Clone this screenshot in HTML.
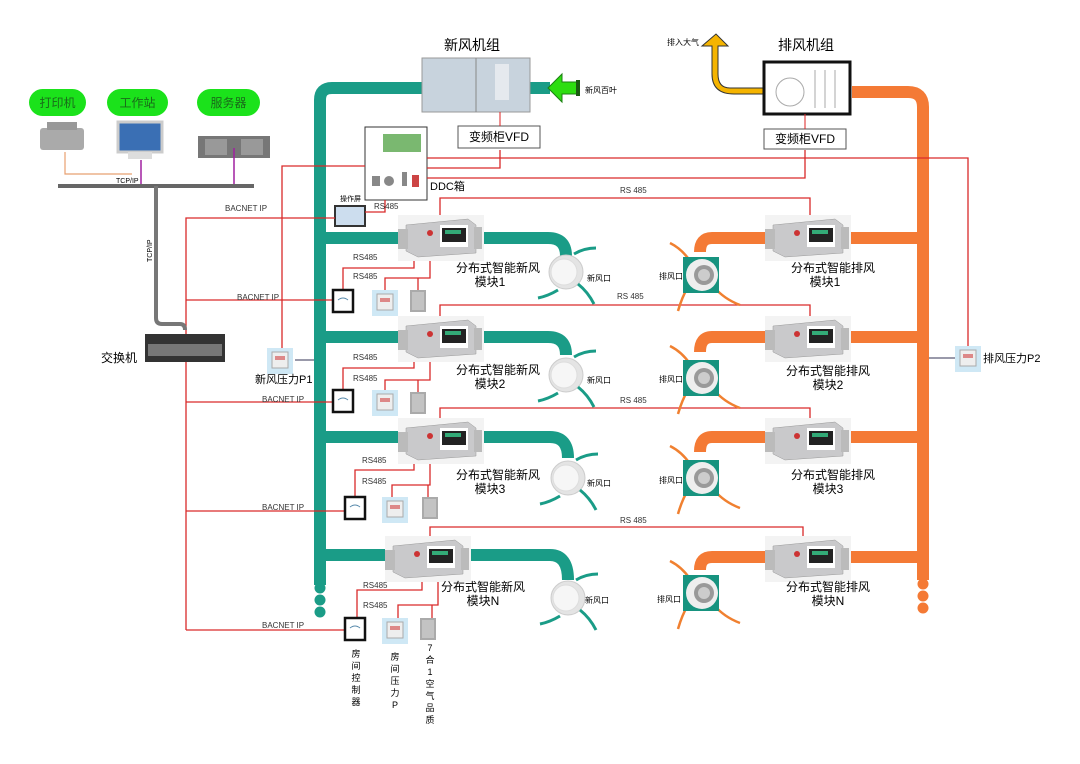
<!DOCTYPE html>
<html><head><meta charset="utf-8"><style>
body{margin:0;background:#fff}
svg{display:block;font-family:"Liberation Sans","Noto Sans CJK SC",sans-serif}
</style></head><body>
<svg width="1080" height="764" viewBox="0 0 1080 764">
<defs>
<g id="mod">
<rect x="0" y="0" width="86" height="46" fill="#f3f3f3"/>
<polygon points="8,10 70,4 78,10 78,38 20,42 8,36" fill="#c9c9cb" stroke="#999" stroke-width="0.5"/>
<rect x="0" y="14" width="10" height="20" fill="#bbb"/>
<rect x="76" y="12" width="8" height="22" fill="#bbb"/>
<rect x="42" y="10" width="28" height="22" fill="#fff"/>
<rect x="44" y="13" width="24" height="14" fill="#222"/>
<rect x="47" y="15" width="16" height="4" fill="#3a7"/>
<circle cx="32" cy="18" r="3" fill="#c33"/>
</g>
<g id="diff">
<circle cx="0" cy="0" r="17" fill="#e4e4e4" stroke="#ccc"/>
<circle cx="-2" cy="0" r="13" fill="#f6f6f6" stroke="#ddd"/>
<path d="M8,-18 Q18,-24 30,-24" fill="none" stroke="#1a9c87" stroke-width="3"/>
<path d="M-8,18 Q-18,24 -28,26" fill="none" stroke="#1a9c87" stroke-width="3"/>
<path d="M12,12 Q22,20 28,32" fill="none" stroke="#1a9c87" stroke-width="3"/>
</g>
<g id="grill">
<path d="M-10,-14 Q-18,-26 -30,-32" fill="none" stroke="#f08030" stroke-width="2.5"/>
<path d="M-12,12 Q-18,22 -22,36" fill="none" stroke="#f08030" stroke-width="2.5"/>
<path d="M14,12 Q24,24 40,30" fill="none" stroke="#f08030" stroke-width="2.5"/>
<rect x="-17" y="-18" width="36" height="36" fill="#17937f"/>
<circle cx="2" cy="0" r="16" fill="#eee"/>
<circle cx="4" cy="0" r="10" fill="#999"/>
<circle cx="4" cy="0" r="6" fill="#ccc"/>
</g>
<g id="ctrl"><rect x="0" y="0" width="20" height="22" fill="#fff" stroke="#111" stroke-width="2.5"/><path d="M5,10 Q10,6 15,10" stroke="#58a" fill="none"/></g>
<g id="pres"><rect x="-3" y="-2" width="26" height="26" fill="#cfe8f5"/><rect x="2" y="2" width="16" height="16" fill="#eee" stroke="#aaa"/><rect x="5" y="6" width="10" height="4" fill="#d88"/></g>
<g id="aq"><rect x="0" y="0" width="16" height="22" fill="#aaa"/><rect x="2" y="2" width="12" height="18" fill="#c3c3c3"/></g>
</defs>

<g fill="none" stroke="#1a9c87" stroke-width="12">
<path d="M320,585 V100 Q320,88 332,88 H422"/>
<line x1="530" y1="88" x2="550" y2="88"/>
<path d="M320,238 H400 M480,238 H548 Q566,238 566,256"/>
<path d="M320,337 H400 M480,337 H548 Q566,337 566,355"/>
<path d="M320,437 H400 M480,437 H550 Q568,437 568,458"/>
<path d="M320,555 H390 M470,555 H550 Q568,555 568,580"/>
</g>
<g fill="#1a9c87"><circle cx="320" cy="588" r="5.5"/><circle cx="320" cy="600" r="5.5"/><circle cx="320" cy="612" r="5.5"/></g>
<g fill="none" stroke="#f47a35" stroke-width="12">
<path d="M852,92 H908 Q923,92 923,107 V580"/>
<path d="M850,238 H923 M765,238 H712 Q700,238 700,252"/>
<path d="M850,337 H923 M765,337 H712 Q700,337 700,352"/>
<path d="M850,437 H923 M765,437 H712 Q700,437 700,452"/>
<path d="M850,557 H923 M765,557 H712 Q700,557 700,570"/>
</g>
<g fill="#f47a35"><circle cx="923" cy="584" r="5.5"/><circle cx="923" cy="596" r="5.5"/><circle cx="923" cy="608" r="5.5"/></g>

<rect x="422" y="58" width="108" height="54" fill="#c8d3dd" stroke="#999"/>
<line x1="476" y1="58" x2="476" y2="112" stroke="#888"/>
<rect x="495" y="64" width="14" height="36" fill="#e5e9ee"/>
<text x="472" y="50" font-size="14" text-anchor="middle">新风机组</text>
<polygon points="548,88 562,74 562,82 578,82 578,94 562,94 562,102" fill="#2ddd10" stroke="#1a8010"/>
<rect x="576" y="80" width="4" height="16" fill="#1a5a10"/>
<text x="585" y="93" font-size="8">新风百叶</text>
<rect x="458" y="126" width="82" height="22" fill="#fff" stroke="#555"/>
<text x="499" y="141" font-size="12" text-anchor="middle">变频柜VFD</text>
<line x1="500" y1="112" x2="500" y2="126" stroke="#d22"/>

<path d="M764,88 H730 Q718,88 718,74 V46 H728 L716,34 L702,46 H712 V74 Q712,94 734,94 H764 Z" fill="#f5b400" stroke="#333" stroke-width="1"/>
<text x="667" y="45" font-size="8">排入大气</text>
<rect x="764" y="62" width="86" height="52" fill="#fff" stroke="#111" stroke-width="3"/>
<circle cx="790" cy="92" r="14" fill="none" stroke="#aaa"/>
<g stroke="#aaa"><line x1="815" y1="70" x2="815" y2="108"/><line x1="825" y1="70" x2="825" y2="108"/><line x1="835" y1="70" x2="835" y2="108"/></g>
<text x="806" y="50" font-size="14" text-anchor="middle">排风机组</text>
<rect x="764" y="129" width="82" height="20" fill="#fff" stroke="#555"/>
<text x="805" y="143" font-size="12" text-anchor="middle">变频柜VFD</text>
<line x1="805" y1="114" x2="805" y2="129" stroke="#d22"/>

<rect x="365" y="127" width="62" height="73" fill="#fff" stroke="#333"/>
<rect x="383" y="134" width="38" height="18" fill="#7ab870"/>
<g fill="#888"><rect x="372" y="176" width="8" height="10"/><circle cx="389" cy="181" r="5"/><rect x="402" y="172" width="5" height="14"/><rect x="412" y="175" width="7" height="12" fill="#c44"/></g>
<text x="430" y="190" font-size="11">DDC箱</text>
<rect x="335" y="206" width="30" height="20" fill="#cde" stroke="#333" stroke-width="2"/>
<text x="340" y="201" font-size="7">操作屏</text>

<g fill="none" stroke="#d92a2a" stroke-width="1.3">
<path d="M365,166 H282 V350"/>
<path d="M186,630 V218 H335"/>
<path d="M385,200 V212 H365"/>
<path d="M427,158 H968 V348"/>
<path d="M427,168 H500 V150"/>
<path d="M427,178 H805 V150"/>
<path d="M440,215 V198 H810 V215"/>
<path d="M440,318 V305 H810 V318"/>
<path d="M440,420 V408 H810 V420"/>
<path d="M430,537 V527 H803 V536"/>
<path d="M186,300 H333 M186,402 H333 M186,511 H345 M186,630 H345"/>
<path d="M414,260 V268 H343 V290 M430,260 V278 H385 V292 M385,278 H418 V292"/>
<path d="M414,360 V368 H343 V390 M430,360 V380 H385 V392 M385,380 H418 V392"/>
<path d="M414,462 V470 H355 V497 M430,462 V485 H392 V497 M392,485 H428 V497"/>
<path d="M422,576 V590 H357 V618 M438,576 V605 H398 V618 M398,605 H432 V618"/>
</g>
<g font-size="8" fill="#333">
<text x="225" y="211">BACNET IP</text><text x="237" y="300">BACNET IP</text><text x="262" y="402">BACNET IP</text><text x="262" y="510">BACNET IP</text><text x="262" y="628">BACNET IP</text>
<text x="374" y="209">RS485</text>
<text x="353" y="260">RS485</text><text x="353" y="279">RS485</text>
<text x="353" y="360">RS485</text><text x="353" y="381">RS485</text>
<text x="362" y="463">RS485</text><text x="362" y="484">RS485</text>
<text x="363" y="588">RS485</text><text x="363" y="608">RS485</text>
<text x="620" y="193">RS 485</text><text x="617" y="299">RS 485</text><text x="620" y="403">RS 485</text><text x="620" y="523">RS 485</text>
</g>

<use href="#mod" x="398" y="215"/><use href="#mod" x="398" y="316"/><use href="#mod" x="398" y="418"/><use href="#mod" x="385" y="536"/>
<use href="#mod" x="765" y="215"/><use href="#mod" x="765" y="316"/><use href="#mod" x="765" y="418"/><use href="#mod" x="765" y="536"/>
<g font-size="12" text-anchor="middle">
<text x="498" y="272">分布式智能新风</text><text x="490" y="286">模块1</text>
<text x="498" y="374">分布式智能新风</text><text x="490" y="388">模块2</text>
<text x="498" y="479">分布式智能新风</text><text x="490" y="493">模块3</text>
<text x="483" y="591">分布式智能新风</text><text x="483" y="605">模块N</text>
<text x="833" y="272">分布式智能排风</text><text x="825" y="286">模块1</text>
<text x="828" y="375">分布式智能排风</text><text x="828" y="389">模块2</text>
<text x="833" y="479">分布式智能排风</text><text x="828" y="493">模块3</text>
<text x="828" y="591">分布式智能排风</text><text x="828" y="605">模块N</text>
</g>
<use href="#diff" x="566" y="272"/><use href="#diff" x="566" y="375"/><use href="#diff" x="568" y="478"/><use href="#diff" x="568" y="598"/>
<g font-size="8"><text x="587" y="281">新风口</text><text x="587" y="383">新风口</text><text x="587" y="486">新风口</text><text x="585" y="603">新风口</text>
<text x="659" y="279">排风口</text><text x="659" y="382">排风口</text><text x="659" y="483">排风口</text><text x="657" y="602">排风口</text></g>
<use href="#grill" x="700" y="275"/><use href="#grill" x="700" y="378"/><use href="#grill" x="700" y="478"/><use href="#grill" x="700" y="593"/>

<use href="#ctrl" x="333" y="290"/><use href="#pres" x="375" y="292"/><use href="#aq" x="410" y="290"/>
<use href="#ctrl" x="333" y="390"/><use href="#pres" x="375" y="392"/><use href="#aq" x="410" y="392"/>
<use href="#ctrl" x="345" y="497"/><use href="#pres" x="385" y="499"/><use href="#aq" x="422" y="497"/>
<use href="#ctrl" x="345" y="618"/><use href="#pres" x="385" y="620"/><use href="#aq" x="420" y="618"/>
<g font-size="9" text-anchor="middle">
<text x="356" y="657">房</text><text x="356" y="669">间</text><text x="356" y="681">控</text><text x="356" y="693">制</text><text x="356" y="705">器</text>
<text x="395" y="660">房</text><text x="395" y="672">间</text><text x="395" y="684">压</text><text x="395" y="696">力</text><text x="395" y="708">P</text>
<text x="430" y="651">7</text><text x="430" y="663">合</text><text x="430" y="675">1</text><text x="430" y="687">空</text><text x="430" y="699">气</text><text x="430" y="711">品</text><text x="430" y="723">质</text>
</g>

<use href="#pres" x="270" y="350"/><line x1="295" y1="360" x2="314" y2="360" stroke="#335" stroke-width="1"/>
<text x="255" y="383" font-size="11">新风压力P1</text>
<use href="#pres" x="958" y="348"/><line x1="929" y1="358" x2="955" y2="358" stroke="#335"/>
<text x="983" y="362" font-size="11">排风压力P2</text>

<g font-size="12" text-anchor="middle">
<rect x="29" y="89" width="57" height="27" rx="13.5" fill="#1be21b"/><text x="57.5" y="107" fill="#1a6a1a">打印机</text>
<rect x="107" y="89" width="61" height="27" rx="13.5" fill="#1be21b"/><text x="137.5" y="107" fill="#1a6a1a">工作站</text>
<rect x="197" y="89" width="63" height="27" rx="13.5" fill="#1be21b"/><text x="228.5" y="107" fill="#1a6a1a">服务器</text>
</g>
<rect x="40" y="128" width="44" height="22" rx="3" fill="#aaa"/><rect x="47" y="122" width="30" height="8" fill="#999"/>
<rect x="118" y="122" width="44" height="30" fill="#3a6fb4" stroke="#ccc" stroke-width="3"/><rect x="128" y="152" width="24" height="7" fill="#ddd"/>
<rect x="198" y="136" width="72" height="22" fill="#777"/><rect x="205" y="139" width="22" height="16" fill="#999"/><rect x="241" y="139" width="22" height="16" fill="#999"/>
<path d="M65,152 V174 H132" fill="none" stroke="#e8a070" stroke-width="1.2"/>
<line x1="141" y1="160" x2="141" y2="186" stroke="#a020a0" stroke-width="1.5"/>
<line x1="234" y1="148" x2="234" y2="186" stroke="#a020a0" stroke-width="1.5"/>
<line x1="58" y1="186" x2="254" y2="186" stroke="#666" stroke-width="4"/>
<text x="116" y="183" font-size="7">TCP/IP</text>
<path d="M156,186 V318 Q156,324 162,324 H180 Q185,324 185,330" fill="none" stroke="#777" stroke-width="4"/>
<text x="152" y="262" font-size="7" transform="rotate(-90 152 262)">TCP/IP</text>
<rect x="145" y="334" width="80" height="28" fill="#333"/><rect x="148" y="344" width="74" height="12" fill="#777"/>
<text x="101" y="362" font-size="12">交换机</text>
</svg>
</body></html>
